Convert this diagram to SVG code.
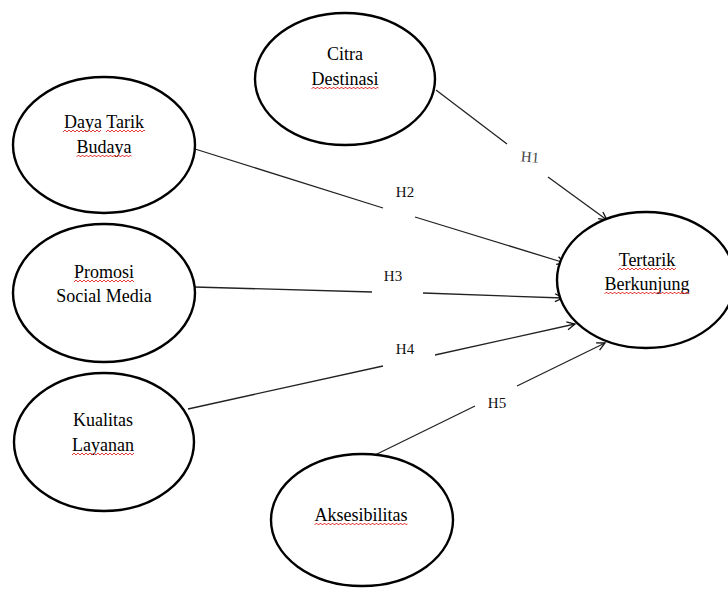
<svg xmlns="http://www.w3.org/2000/svg" width="728" height="593" viewBox="0 0 728 593">
<style>
.node ellipse{fill:#fff;stroke:#000;stroke-width:2.4}
.node text{font-family:"Liberation Serif","Times New Roman",serif;font-size:18px;fill:#000;text-anchor:middle}
.sq{fill:url(#sq)}
.conn line{stroke:#222;stroke-width:1.3;fill:none}
.lbl{font-family:"Liberation Serif","Times New Roman",serif;font-size:15px;fill:#111;text-anchor:middle}
.lbl.gray{fill:#444}
</style>
<defs>
<pattern id="sq" width="4" height="4" patternUnits="userSpaceOnUse">
<path d="M0,3 L2,1 L4,3" fill="none" stroke="#e02828" stroke-width="0.9"/>
</pattern>
<marker id="arr" markerWidth="12" markerHeight="12" refX="0" refY="0" viewBox="-10 -6 12 12" orient="auto" markerUnits="userSpaceOnUse">
<path d="M-8,-4 L0,0 L-8,4" fill="none" stroke="#111" stroke-width="1.3"/>
</marker>
</defs>
<rect width="728" height="593" fill="#fff"/>
<g id="connectors" class="conn">
<line x1="436" y1="90" x2="507" y2="144"/>
<line x1="548" y1="177" x2="607" y2="220" marker-end="url(#arr)"/>
<line x1="195" y1="149" x2="383" y2="208"/>
<line x1="415" y1="217" x2="565" y2="263" marker-end="url(#arr)"/>
<line x1="194" y1="287" x2="372" y2="292"/>
<line x1="423" y1="293" x2="563" y2="298" marker-end="url(#arr)"/>
<line x1="188" y1="409" x2="383" y2="366"/>
<line x1="435" y1="355" x2="575" y2="324" marker-end="url(#arr)"/>
<line x1="375" y1="455" x2="475" y2="406"/>
<line x1="517" y1="386" x2="605" y2="343" marker-end="url(#arr)"/>
<text class="lbl gray" x="530" y="162" transform="rotate(5 530 157)">H1</text>
<text class="lbl" x="405" y="197">H2</text>
<text class="lbl" x="393" y="281">H3</text>
<text class="lbl" x="405" y="354">H4</text>
<text class="lbl" x="497" y="408">H5</text>
</g>
<g id="node-citra" class="node">
<ellipse cx="345" cy="79" rx="90" ry="66"/>
<text x="345" y="60">Citra</text>
<text x="345" y="85">Destinasi</text>
<rect class="sq" width="67" height="4" transform="translate(311.5,86)"/>
</g>
<g id="node-daya" class="node">
<ellipse cx="104" cy="145" rx="91" ry="68"/>
<text x="104" y="128">Daya Tarik</text>
<text x="104" y="153">Budaya</text>
<rect class="sq" width="38" height="4" transform="translate(63,129)"/>
<rect class="sq" width="39" height="4" transform="translate(106,129)"/>
<rect class="sq" width="55" height="4" transform="translate(76.5,154)"/>
</g>
<g id="node-promosi" class="node">
<ellipse cx="104" cy="293" rx="91" ry="69"/>
<text x="104" y="278">Promosi</text>
<text x="104" y="302">Social Media</text>
<rect class="sq" width="60" height="4" transform="translate(74,279)"/>
</g>
<g id="node-kualitas" class="node">
<ellipse cx="104" cy="442" rx="90" ry="69"/>
<text x="103" y="426">Kualitas</text>
<text x="103" y="451">Layanan</text>
<rect class="sq" width="62" height="4" transform="translate(72,452)"/>
</g>
<g id="node-aksesibilitas" class="node">
<ellipse cx="362" cy="520" rx="91" ry="66"/>
<text x="361" y="521">Aksesibilitas</text>
<rect class="sq" width="93" height="4" transform="translate(314.5,522)"/>
</g>
<g id="node-tertarik" class="node">
<ellipse cx="646" cy="280" rx="89" ry="68"/>
<text x="647" y="266">Tertarik</text>
<text x="647" y="290">Berkunjung</text>
<rect class="sq" width="58" height="4" transform="translate(618,267)"/>
<rect class="sq" width="85" height="4" transform="translate(604.5,291)"/>
</g>
</svg>
